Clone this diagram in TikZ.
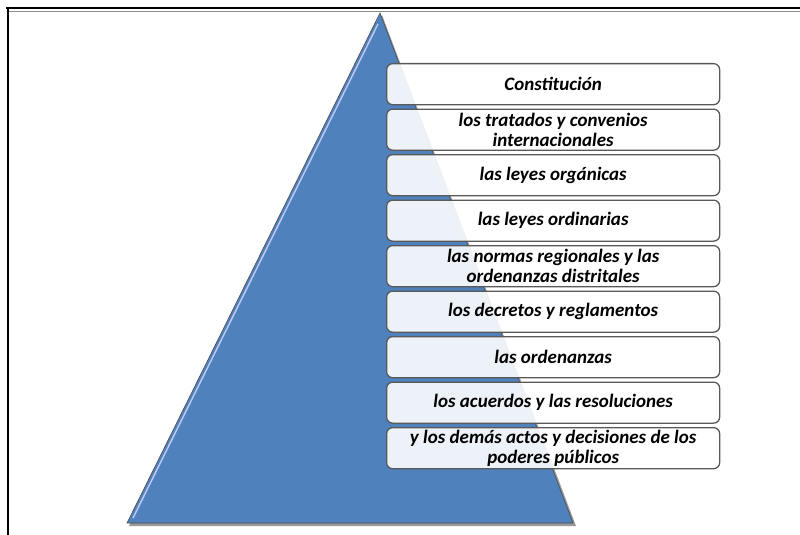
\documentclass[tikz,border=0pt]{standalone}
\usepackage{fontspec}
\setmainfont{Carlito}
\begin{document}
\begin{tikzpicture}[x=1pt,y=-1pt,
  tier/.style={draw=black!65, line width=1.3pt, rounded corners=6pt, fill=white, fill opacity=0.9, text opacity=1,
    minimum width=333pt, minimum height=41pt, inner sep=0pt, align=center, anchor=north west,
    font=\fontsize{19}{20}\selectfont\bfseries\itshape}]
\useasboundingbox (0,0) rectangle (800,535);
% frame
\draw[line width=2pt, black] (6,8) -- (800,8);
\draw[line width=0.8pt, black!45] (8,11) -- (800,11);
\draw[line width=2pt, black] (8,8) -- (8,535);
% pyramid
\coordinate (apex) at (380,13);
\coordinate (bl) at (127,523);
\coordinate (br) at (573,523);
\fill[black!40] (382,15) -- (576,526) -- (129,526) -- cycle;
\draw[fill={rgb,255:red,79;green,129;blue,189}, draw=black!70, line width=0.6pt] (apex) -- (br) -- (bl) -- cycle;
\draw[white!85!blue, line width=1.5pt, opacity=0.8] (378,24) -- (133,518);
% tiers
\node[tier] (t1) at (386,63) {Constitución};
\node[tier] (t2) at (386,108.5) {los tratados y convenios\\internacionales};
\node[tier] (t3) at (386,154) {las leyes orgánicas};
\node[tier] (t4) at (386,199.5) {las leyes ordinarias};
\node[tier] (t5) at (386,245) {las normas regionales y las\\ordenanzas distritales};
\node[tier] (t6) at (386,290.5) {los decretos y reglamentos};
\node[tier] (t7) at (386,336) {las ordenanzas};
\node[tier] (t8) at (386,381.5) {los acuerdos y las resoluciones};
\node[tier] (t9) at (386,427) {y los demás actos y decisiones de los\\poderes públicos};
\end{tikzpicture}
\end{document}
